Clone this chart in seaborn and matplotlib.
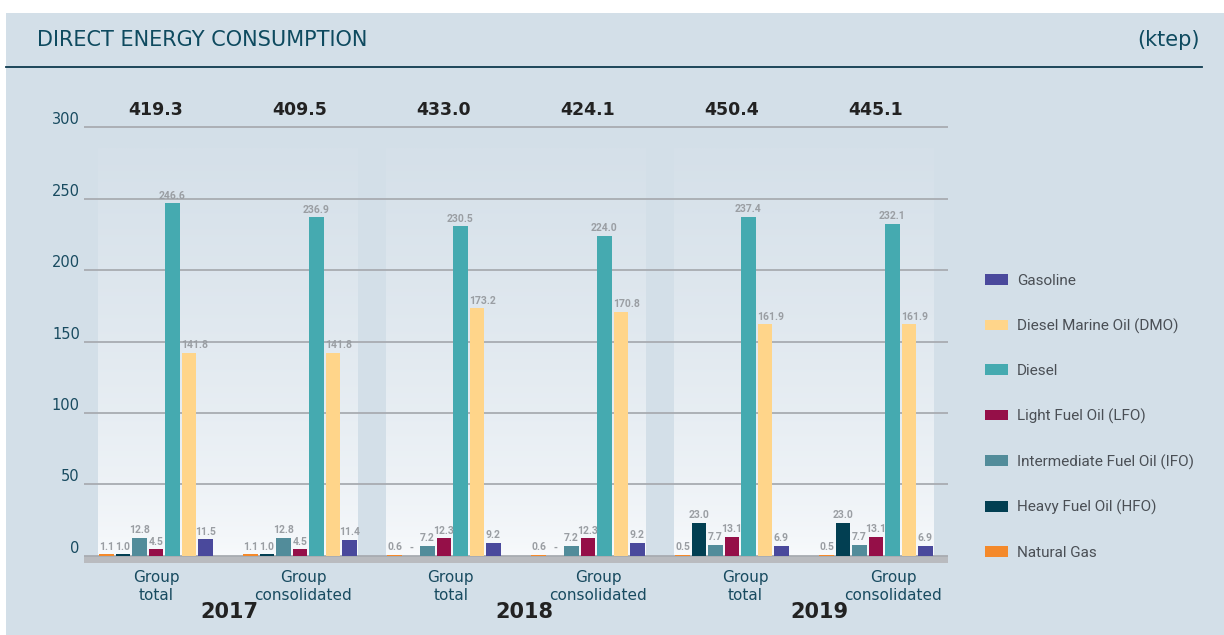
import numpy as np
import pandas as pd
import matplotlib
matplotlib.use("Agg")
import matplotlib.pyplot as plt
import seaborn as sns
from matplotlib.patches import Patch, Rectangle
from matplotlib.lines import Line2D
import matplotlib.transforms as mtransforms

# ---------------- data ----------------
years = ["2017", "2018", "2019"]
scopes = ["Group\ntotal", "Group\nconsolidated"]
fuels = ["Natural Gas", "Heavy Fuel Oil (HFO)", "Intermediate Fuel Oil (IFO)",
         "Light Fuel Oil (LFO)", "Diesel", "Diesel Marine Oil (DMO)", "Gasoline"]
natural_gas = [1.1, 1.1, 0.6, 0.6, 0.5, 0.5]
hfo = [1.0, 1.0, 0.0, 0.0, 23.0, 23.0]
ifo = [12.8, 12.8, 7.2, 7.2, 7.7, 7.7]
lfo = [4.5, 4.5, 12.3, 12.3, 13.1, 13.1]
diesel = [246.6, 236.9, 230.5, 224.0, 237.4, 232.1]
dmo = [141.8, 141.8, 173.2, 170.8, 161.9, 161.9]
gasoline = [11.5, 11.4, 9.2, 9.2, 6.9, 6.9]
totals = [419.3, 409.5, 433.0, 424.1, 450.4, 445.1]
y_ticks = [0, 50, 100, 150, 200, 250, 300]

fuel_colors = ["#f4892a", "#023f52", "#528c9a", "#950f48", "#45aab0", "#ffd58a", "#4a499c"]

BG = "#d3dfe8"
TEAL_TXT = "#184b60"
GRID = "#a8acb1"
VAL_GRAY = "#9a9ea3"

groups = [f"{y} {s}" for y in years for s in scopes]
series = [natural_gas, hfo, ifo, lfo, diesel, dmo, gasoline]
rows = []
for fuel, vals in zip(fuels, series):
    for g, v in zip(groups, vals):
        rows.append({"group": g, "fuel": fuel, "value": v})
df = pd.DataFrame(rows)

# ---------------- figure ----------------
W, H = 1224, 635
fig = plt.figure(figsize=(W / 100, H / 100), dpi=100)
fig.patch.set_facecolor("white")
fig.add_artist(Rectangle((6 / W, 0), 1, (H - 13) / H, transform=fig.transFigure,
                         facecolor=BG, edgecolor="none", zorder=-10))

ax = fig.add_axes([84 / W, 1 - 563 / H, (948 - 84) / W, (563 - 90) / H])
ax.set_facecolor("none")

# light gradient panels behind each year
top_c = np.array(matplotlib.colors.to_rgb("#d5e0e9"))
bot_c = np.array(matplotlib.colors.to_rgb("#f8fafc"))
t = np.linspace(0, 1, 256) ** 0.7
grad = (bot_c[None, :] * (1 - t[:, None]) + top_c[None, :] * t[:, None])[:, None, :]
for k in range(len(years)):
    ax.imshow(grad, extent=[2 * k - 0.4, 2 * k + 1.4, 0, 285], aspect="auto",
              origin="lower", zorder=0, interpolation="bilinear")

sns.barplot(data=df, x="group", y="value", hue="fuel", order=groups, hue_order=fuels,
            palette=fuel_colors, saturation=1, gap=0.1, legend=False, ax=ax,
            linewidth=0, errorbar=None, zorder=3)

ax.axhspan(-5, 0, color="#b9bbbf", lw=0, zorder=2)

ax.set_xlim(-0.5, 5.5)
ax.set_ylim(-5, 326)
ax.set_yticks(y_ticks)
ax.yaxis.grid(True, color=GRID, lw=1.3, zorder=1)
ax.xaxis.grid(False)
ax.set_axisbelow(False)
for s in ax.spines.values():
    s.set_visible(False)
ax.tick_params(length=0)
ax.set_xlabel("")
ax.set_ylabel("")
for lbl in ax.get_yticklabels():
    lbl.set_color(TEAL_TXT)
    lbl.set_fontsize(10.5)
    lbl.set_va("bottom")
ax.tick_params(axis="y", pad=3)

label_pos = np.arange(len(groups)) * 1.0236
ax.set_xticks(label_pos)
ax.set_xticklabels(scopes * len(years), fontsize=11, color=TEAL_TXT, linespacing=1.25)
ax.tick_params(axis="x", pad=5)

# bar value labels
val_font = dict(fontsize=7.5, color=VAL_GRAY, fontweight="bold",
                family=["Roboto", "DejaVu Sans"], zorder=6)
for fuel, cont, vals in zip(fuels, ax.containers, series):
    labs = ["-" if v == 0 else f"{v:.1f}" for v in vals]
    if fuel == "Diesel Marine Oil (DMO)":
        # left-aligned on the bar's left edge, as in the original
        for bar, lab in zip(cont, labs):
            ax.annotate(lab, (bar.get_x(), bar.get_height()), xytext=(0, 2),
                        textcoords="offset points", ha="left", va="bottom", **val_font)
    else:
        ax.bar_label(cont, labels=labs, padding=2, **val_font)

# totals
for i, tot in enumerate(totals):
    ax.text(i, 312, f"{tot:.1f}", ha="center", va="center", fontsize=12.5,
            fontweight="bold", color="#222222")

# year labels
trans = mtransforms.blended_transform_factory(ax.transData, fig.transFigure)
for k, y in enumerate(years):
    mid = (label_pos[2 * k] + label_pos[2 * k + 1]) / 2
    ax.text(mid, 1 - 612 / H, y, transform=trans, ha="center", va="center",
            fontsize=15, fontweight="bold", color="#222222")

# header
fig.text(37 / W, 1 - 40 / H, "DIRECT ENERGY CONSUMPTION", ha="left", va="center",
         fontsize=15, color="#0e4a5f")
fig.text(1200 / W, 1 - 40 / H, "(ktep)", ha="right", va="center",
         fontsize=15, color="#0e4a5f")
fig.add_artist(Line2D([6 / W, 1202 / W], [1 - 67 / H, 1 - 67 / H],
                      transform=fig.transFigure, color="#0d3b4f", lw=1.3))

# legend
handles = [Patch(facecolor=c, edgecolor="none", label=f)
           for f, c in zip(reversed(fuels), reversed(fuel_colors))]
fig.legend(handles=handles, loc="upper left", bbox_to_anchor=(985 / W, 1 - 274 / H),
           frameon=False, borderpad=0, borderaxespad=0, handlelength=1.5,
           handleheight=0.7, handletextpad=0.6, labelspacing=1.99,
           prop={"family": "Roboto", "size": 11}, labelcolor="#4a4f55")

fig.savefig("out.png", dpi=100, facecolor=fig.get_facecolor())
